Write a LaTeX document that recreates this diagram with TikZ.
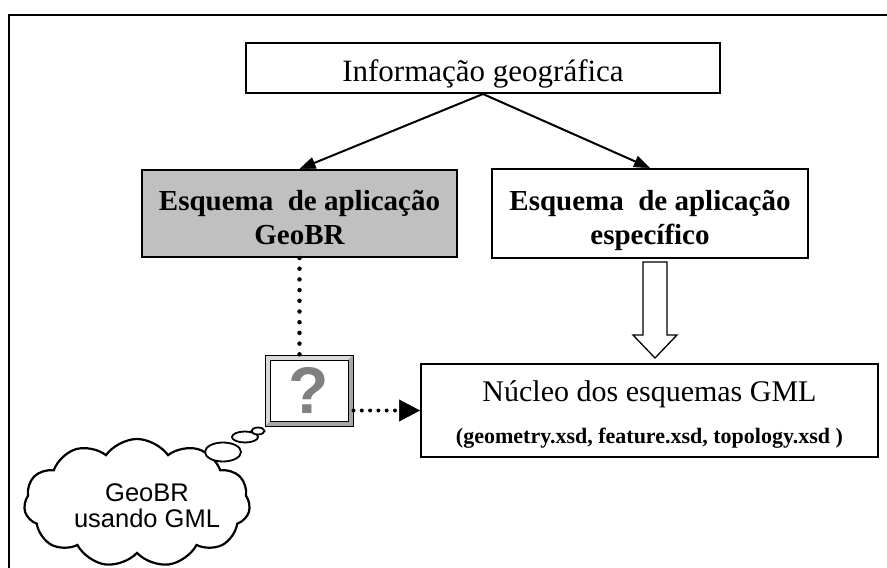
\documentclass[tikz,border=0pt]{standalone}
\usepackage{fontspec}
\setmainfont{Liberation Serif}
\newfontfamily\sansf{Liberation Sans}
\usetikzlibrary{arrows.meta,calc,shapes.symbols}
\definecolor{boxgray}{RGB}{192,192,192}
\definecolor{qgray}{RGB}{128,128,128}
\begin{document}
\begin{tikzpicture}[x=1pt,y=-1pt,
  box/.style={draw=black, line width=2pt, fill=white, inner sep=0pt, align=center},
  solidarrow/.style={line width=2pt, -{Triangle[length=16pt,width=12pt,line width=0.5pt]}},
  dotv/.style={line width=4.5pt, line cap=round, dash pattern=on 0pt off 10.7pt},
  doth/.style={line width=4pt, line cap=round, dash pattern=on 0pt off 8.3pt,
     -{Triangle[length=21pt,width=22pt,line width=0.5pt]}},
  bubble/.style={draw=black, line width=1.8pt, fill=white},
  bigfont/.style={font=\fontsize{31}{36}\selectfont},
  boldfont/.style={font=\fontsize{29}{33.5}\selectfont\bfseries}]
\useasboundingbox (0,0) rectangle (887,568);
\fill[white] (0,0) rectangle (887,568);
% outer frame
\draw[line width=2.8pt] (9,572) -- (9,15) -- (892,15);

\node[box, bigfont, minimum width=474, minimum height=50] (info) at (483,68) {\rule{0pt}{33pt}Informação geográfica};
\node[box, boldfont, fill=boxgray, minimum width=315, minimum height=87] (geobr) at (299.5,213.5)
  {\rule{0pt}{35pt}Esquema\ \ de aplicação\\GeoBR\rule[-7pt]{0pt}{7pt}};
\node[box, boldfont, minimum width=316, minimum height=89] (espec) at (650,213.5)
  {\rule{0pt}{35pt}Esquema\ \ de aplicação\\específico\rule[-7pt]{0pt}{7pt}};
\node[box, minimum width=457, minimum height=93, font=\fontsize{30}{34}\selectfont] (nucleo) at (649.5,410.5)
  {\rule{0pt}{29pt}Núcleo dos esquemas GML\\[8pt]{\fontsize{22}{26}\selectfont\bfseries (geometry.xsd, feature.xsd, topology.xsd )}\rule[-5pt]{0pt}{5pt}};

\node[draw=black, line width=1pt, fill=gray!30, minimum width=88, minimum height=71, inner sep=0pt,
  path picture={
    \fill[gray!70] (path picture bounding box.south west) -- (path picture bounding box.south east)
      -- (path picture bounding box.north east) -- ($(path picture bounding box.north east)+(-5,5)$)
      -- ($(path picture bounding box.south east)+(-5,-5)$) -- ($(path picture bounding box.south west)+(5,-5)$) -- cycle;
    \draw[fill=white, line width=0.8pt] ($(path picture bounding box.north west)+(5,5)$) rectangle ($(path picture bounding box.south east)+(-5,-5)$);
  }] (q) at (309,390.5) {\sansf\bfseries\fontsize{66}{66}\selectfont\color{qgray}?};

% arrows
\draw[solidarrow] (info.south) -- (geobr.north);
\draw[solidarrow] (info.south) -- (espec.north);
\draw[dotv] (geobr.south) -- (geobr.south |- q.north);
\draw[doth] (q.east |- nucleo.west) -- (nucleo.west);

% hollow block arrow
\coordinate (ha) at (espec.south -| 655,0);
\coordinate (hb) at (nucleo.north -| 655,0);
\draw[line width=1.3pt, fill=white] ($(ha)+(-12,3)$) -- ($(ha)+(12,3)$) -- ($(hb)+(12,-28)$) -- ($(hb)+(22,-28)$)
  -- ($(hb)+(0,-5)$) -- ($(hb)+(-22,-28)$) -- ($(hb)+(-12,-28)$) -- cycle;

% cloud
\node[cloud, draw=black, line width=2.2pt, cloud puffs=11, cloud puff arc=110, aspect=1.75,
  minimum width=226, minimum height=128, inner sep=0pt,
  font=\sansf\fontsize{25.5}{25}\selectfont] (cloud) at (137,503)
  {\smash{\makebox[0pt]{\hspace*{20pt}\raisebox{-13pt}{\begin{tabular}{@{}c@{}}GeoBR\\usando GML\end{tabular}}}}};
\draw[bubble] (223,452) ellipse [x radius=18, y radius=9.5];
\draw[bubble] (245,437) ellipse [x radius=13, y radius=5.5];
\draw[bubble] (258,431) ellipse [x radius=6.5, y radius=3.5];
\end{tikzpicture}
\end{document}
